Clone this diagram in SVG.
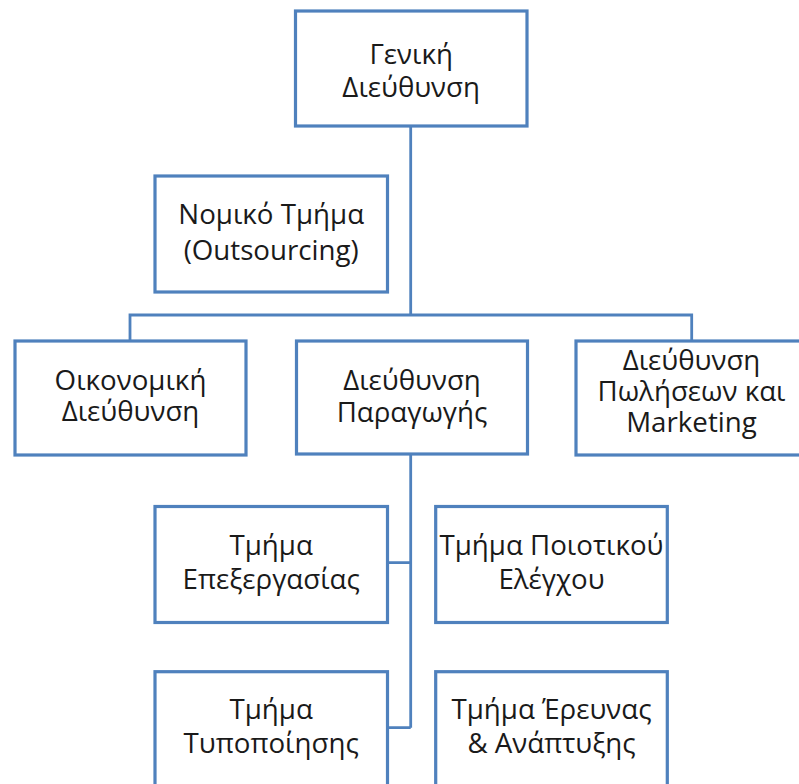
<svg xmlns="http://www.w3.org/2000/svg" width="799" height="784" viewBox="0 0 799 784">
<style>
.box{fill:#ffffff;stroke:#4f81bd;stroke-width:3.2}
.con{fill:none;stroke:#4f81bd;stroke-width:2.8}
text{font-family:"Open Sans","Noto Sans","DejaVu Sans",sans-serif;font-size:27.7px;fill:#1a1a1a;text-anchor:middle}
</style>
<rect width="799" height="784" fill="#ffffff"/>
<g id="connectors">
<path class="con" d="M410.7 126 V315 M130 340 V315 H691.7 V340"/>
<path class="con" d="M410.7 455 V727.7 M387.5 562.7 H410.7 M387.5 727.7 H410.7"/>
</g>
<g id="n-geniki">
<rect class="box" x="295.5" y="11" width="231.5" height="115"/>
<text><tspan x="411.2" y="63.5">Γενική</tspan><tspan x="411.2" y="97">Διεύθυνση</tspan></text>
</g>
<g id="n-nomiko">
<rect class="box" x="155" y="176" width="232.5" height="116"/>
<text><tspan x="271.2" y="224">Νομικό Τμήμα</tspan><tspan x="271.2" y="260">(Outsourcing)</tspan></text>
</g>
<g id="n-oikonomiki">
<rect class="box" x="15" y="341" width="231" height="114"/>
<text><tspan x="130.5" y="389.5">Οικονομική</tspan><tspan x="130.5" y="421">Διεύθυνση</tspan></text>
</g>
<g id="n-paragogi">
<rect class="box" x="296.5" y="341" width="231" height="113"/>
<text><tspan x="412" y="390">Διεύθυνση</tspan><tspan x="412" y="422">Παραγωγής</tspan></text>
</g>
<g id="n-poliseis">
<rect class="box" x="576" y="341" width="231" height="114"/>
<text><tspan x="691.5" y="370">Διεύθυνση</tspan><tspan x="691.5" y="401">Πωλήσεων και</tspan><tspan x="691.5" y="432">Marketing</tspan></text>
</g>
<g id="n-epexergasia">
<rect class="box" x="155" y="506.5" width="232.5" height="116"/>
<text><tspan x="271.2" y="555">Τμήμα</tspan><tspan x="271.2" y="589">Επεξεργασίας</tspan></text>
</g>
<g id="n-poiotita">
<rect class="box" x="435.7" y="506.5" width="231.6" height="116"/>
<text><tspan x="551.5" y="555">Τμήμα Ποιοτικού</tspan><tspan x="551.5" y="589">Ελέγχου</tspan></text>
</g>
<g id="n-typopoiisi">
<rect class="box" x="155" y="671.7" width="232.5" height="116"/>
<text><tspan x="271.2" y="719">Τμήμα</tspan><tspan x="271.2" y="753">Τυποποίησης</tspan></text>
</g>
<g id="n-erevna">
<rect class="box" x="435.7" y="671.7" width="231.6" height="116"/>
<text><tspan x="551.5" y="719">Τμήμα Έρευνας</tspan><tspan x="551.5" y="753">&amp; Ανάπτυξης</tspan></text>
</g>
</svg>
